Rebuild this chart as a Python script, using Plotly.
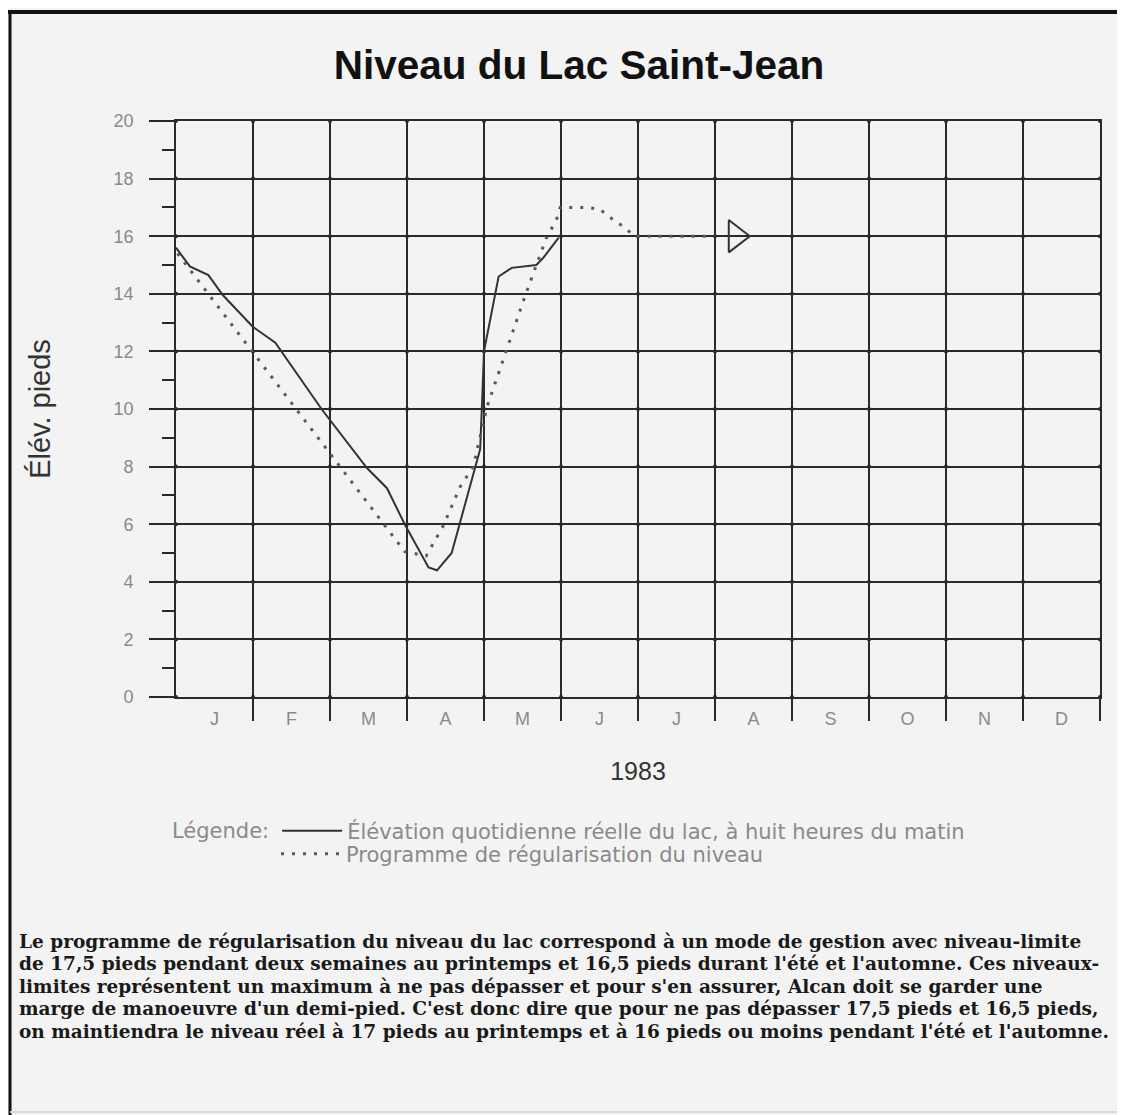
import numpy as np
import plotly.graph_objects as go

# ---------------- data ----------------
month_labels = ["J", "F", "M", "A", "M", "J", "J", "A", "S", "O", "N", "D"]
month_label_pos = [0.5, 1.5, 2.5, 3.5, 4.5, 5.5, 6.5, 7.5, 8.5, 9.5, 10.5, 11.5]
month_bounds = [1, 2, 3, 4, 5, 6, 7, 8, 9, 10, 11, 12]
level_ticks = [0, 2, 4, 6, 8, 10, 12, 14, 16, 18, 20]

# actual daily level at 8 a.m. (x in months from Jan 1, 1983)
actual_month = [0.0, 0.18, 0.42, 0.61, 1.0, 1.29, 1.89, 2.48, 2.74, 2.97,
                3.28, 3.39, 3.58, 3.95, 3.97, 4.0, 4.19, 4.36, 4.68, 4.77, 4.97]
actual_level = [15.6, 14.95, 14.65, 13.95, 12.85, 12.3, 10.0, 7.95, 7.25, 6.0,
                4.5, 4.4, 5.0, 8.6, 9.9, 12.0, 14.6, 14.9, 15.0, 15.25, 15.95]

# regulation programme
program_month = [0.02, 2.97, 3.25, 3.47, 3.69, 3.86, 4.04, 4.29, 4.53, 4.81,
                 4.94, 4.99, 5.35, 5.51, 5.61, 5.72, 5.83, 5.95, 6.99]
program_level = [15.4, 5.05, 4.9, 5.94, 7.3, 8.0, 10.08, 12.05, 13.9, 15.94,
                 16.56, 17.0, 17.0, 16.93, 16.7, 16.5, 16.3, 16.0, 16.0]

# arrow showing the programme continues
arrow_month = [7.27]
arrow_level = [16.0]

title_text = "Niveau du Lac Saint-Jean"
y_title = "Élév. pieds"
x_title = "1983"
legend_title = "Légende:"
actual_name = "Élévation quotidienne réelle du lac, à huit heures du matin"
program_name = "Programme de régularisation du niveau"
paragraph_lines = [
    "Le programme de régularisation du niveau du lac correspond à un mode de gestion avec niveau-limite",
    "de 17,5 pieds pendant deux semaines au printemps et 16,5 pieds durant l'été et l'automne. Ces niveaux-",
    "limites représentent un maximum à ne pas dépasser et pour s'en assurer, Alcan doit se garder une",
    "marge de manoeuvre d'un demi-pied. C'est donc dire que pour ne pas dépasser 17,5 pieds et 16,5 pieds,",
    "on maintiendra le niveau réel à 17 pieds au printemps et à 16 pieds ou moins pendant l'été et l'automne.",
]

# ---------------- layout helpers ----------------
OFF = 8  # page body margin of the html page
W, H = 1125 - OFF, 1115 - OFF
PL, PR, PT, PB = 176, 1100, 121, 697  # target screen pixels of plot area
BG = "#f3f3f3"
INK = "#2a2a2a"
GRAY = "#8a8a8a"


def px_x(px):
    return (px - PL) / (PR - PL)


def px_y(py):
    return (PB - py) / (PB - PT)


fig = go.Figure()

# grid intersection blobs
gx, gy = np.meshgrid([0] + month_bounds, level_ticks)
fig.add_trace(go.Scatter(x=gx.ravel(), y=gy.ravel(), mode="markers",
                         marker=dict(size=4, color=INK), showlegend=False,
                         hoverinfo="skip"))

fig.add_trace(go.Scatter(x=actual_month, y=actual_level, mode="lines",
                         name=actual_name, legend="legend",
                         line=dict(color="#333333", width=2)))
fig.add_trace(go.Scatter(x=program_month, y=program_level, mode="lines",
                         name=program_name, legend="legend2",
                         line=dict(color="#5a5a5a", width=3, dash="3px,8px")))
fig.add_trace(go.Scatter(x=arrow_month, y=arrow_level, mode="markers",
                         showlegend=False,
                         marker=dict(symbol="triangle-right-open", size=28,
                                     color="#333333",
                                     line=dict(width=2, color="#333333"))))

leg_font = dict(family="DejaVu Sans", size=21, color=GRAY)

fig.update_layout(
    width=W, height=H, autosize=False,
    margin=dict(l=PL - OFF, r=W - (PR - OFF), t=PT - OFF, b=H - (PB - OFF)),
    paper_bgcolor=BG, plot_bgcolor=BG,
    title=dict(text="<b>" + title_text + "</b>", x=(579 - OFF) / W, xanchor="center",
               y=1 - (65 - OFF) / H, yanchor="middle", xref="container", yref="container",
               font=dict(family="Liberation Sans", size=40.5, color="#111111")),
    showlegend=True,
    legend=dict(x=px_x(170), xanchor="left", y=px_y(831), yanchor="middle",
                orientation="v", bgcolor="rgba(0,0,0,0)", itemwidth=60,
                title=dict(text=legend_title, side="left", font=leg_font),
                font=leg_font),
    legend2=dict(x=px_x(276), xanchor="left", y=px_y(854), yanchor="middle",
                 orientation="v", bgcolor="rgba(0,0,0,0)", itemwidth=60,
                 font=leg_font),
    xaxis=dict(range=[0, 12], showgrid=False, zeroline=False,
               showline=True, linecolor=INK, linewidth=1.8, mirror=True,
               tickmode="array", tickvals=month_label_pos, ticktext=month_labels,
               ticks="", ticklabelstandoff=4,
               tickfont=dict(family="Liberation Sans", size=18, color=GRAY),
               minor=dict(tickmode="array", tickvals=month_bounds,
                          ticks="outside", ticklen=22, tickwidth=1.8,
                          tickcolor=INK, showgrid=True, gridcolor=INK,
                          gridwidth=1.7),
               title=dict(text=x_title, standoff=35,
                          font=dict(family="Liberation Sans", size=25, color="#333333"))),
    yaxis=dict(range=[0, 20], zeroline=False,
               showline=True, linecolor=INK, linewidth=1.8, mirror=True,
               tickmode="array", tickvals=level_ticks,
               ticks="outside", ticklen=25, tickwidth=1.7, tickcolor=INK,
               showgrid=True, gridcolor=INK, gridwidth=1.7,
               ticklabelstandoff=12,
               tickfont=dict(family="Liberation Sans", size=18, color=GRAY),
               minor=dict(tick0=0, dtick=1, ticks="outside", ticklen=12,
                          tickwidth=1.6, tickcolor=INK, showgrid=False),
               title=dict(text=y_title, standoff=54,
                          font=dict(family="Liberation Sans", size=29, color="#333333"))),
)

# paragraph below the chart
line_y = [941, 963, 986, 1008, 1031]
for txt, ly in zip(paragraph_lines, line_y):
    fig.add_annotation(text="<b>" + txt + "</b>", xref="paper", yref="paper",
                       x=px_x(17), y=px_y(ly), xanchor="left", yanchor="middle",
                       showarrow=False, align="left",
                       font=dict(family="DejaVu Serif", size=18.5, color="#1a1a1a"))

# page frame
fig.add_shape(type="line", xref="paper", yref="paper",
              x0=px_x(8), x1=px_x(1140), y0=px_y(12), y1=px_y(12),
              line=dict(color="#111111", width=4))
fig.add_shape(type="line", xref="paper", yref="paper",
              x0=px_x(10), x1=px_x(10), y0=px_y(10), y1=px_y(1130),
              line=dict(color="#111111", width=3))
fig.add_shape(type="line", xref="paper", yref="paper",
              x0=px_x(10), x1=px_x(1140), y0=px_y(1112), y1=px_y(1112),
              line=dict(color="#d8d8d8", width=2))

fig.write_html("out.html")
